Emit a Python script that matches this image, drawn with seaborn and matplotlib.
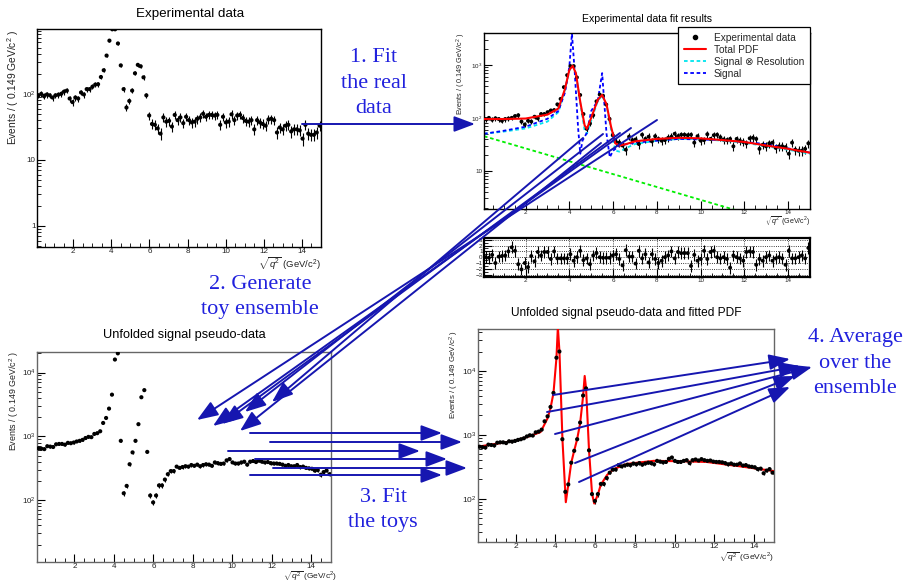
import numpy as np
import pandas as pd
import matplotlib
matplotlib.use('Agg')
import matplotlib.pyplot as plt
from matplotlib.lines import Line2D
from matplotlib.ticker import MultipleLocator, LogLocator, FuncFormatter, NullFormatter, FixedLocator
import seaborn as sns

sns.set_style('ticks')
plt.rcParams['font.family'] = ['Liberation Sans', 'DejaVu Sans']
plt.rcParams['mathtext.fontset'] = 'custom'
plt.rcParams['mathtext.rm'] = 'Liberation Sans'
plt.rcParams['mathtext.it'] = 'Liberation Sans:italic'

W, H = 907, 583

# histogram binning: 100 bins of 0.149 GeV/c^2 between 0.1 and 15.0
edges = np.linspace(0.1, 15.0, 101)
centers = 0.5 * (edges[:-1] + edges[1:])

# experimental data (events per bin)
exp_counts = [95, 100, 92, 98, 95, 88, 95, 97, 100, 108,
              112, 85, 75, 88, 85, 105, 98, 118, 118, 128,
              138, 140, 180, 228, 380, 640, 950, 950, 580, 270,
              118, 62, 78, 112, 205, 275, 262, 178, 95, 47,
              35, 34, 30, 25, 44, 38, 39, 32, 48, 40,
              44, 36, 45, 40, 37, 38, 42, 44, 50, 45,
              48, 48, 47, 48, 34, 45, 37, 38, 49, 40,
              47, 48, 43, 39, 38, 40, 29, 40, 37, 35,
              33, 41, 42, 40, 26, 31, 29, 33, 34, 27,
              29, 29, 28, 21, 34, 25, 24, 24, 26, 33]

# pulls of the data fit
pulls = [0, -0.1, 0.4, -1, 0.1, 0.2, 0.3, 1.0, 1.7, 1.1,
         -1.2, -2.1, -1, -1.7, 0.2, -0.7, 0.9, 0.3, 0.9, 0.9,
         -0.3, 1.0, -0.2, -0.2, -0.2, -0.2, 0.5, -0.6, 0, 1.1,
         -0.5, -0.2, -1.2, 0.3, 0.7, 0, -0.1, -0.1, -0.1, 0.3,
         0.5, -0.3, -1.4, 1.2, 0.1, 0.1, -1.1, 1.1, -0.2, 0.5,
         -0.9, 0.5, -0.3, -1, -0.6, 0, 0.3, 1.0, -0.2, 0.9,
         0.7, 0.7, 0.7, -1.5, 0.4, -0.6, -0.3, 1.1, -0.3, 0.9,
         1.1, 0, -0.2, 0, -0.3, -1.8, 0.3, 0, -0.2, -0.6,
         0.9, 1.0, 0.9, -1.3, -0.3, -0.6, 0, 0.3, -0.6, -0.2,
         0, -0.2, -1.3, 1.1, -0.2, -0.2, 0, 0.3, -0.2, 1.6]

# fit components of the experimental data
fit_x = [0.1, 1.0, 2.0, 3.0, 3.5, 3.8, 4.0, 4.15, 4.3, 4.5, 4.7, 4.8, 5.0, 5.3, 5.5,
         5.7, 5.9, 6.1, 6.3, 6.6, 7.0, 8.0, 9.0, 10.0, 11.0, 12.0, 13.0, 14.0, 15.0]
total_pdf = [95, 95, 97, 115, 150, 350, 800, 960, 700, 200, 72, 62, 100, 220, 270,
             180, 70, 33, 30, 32, 36, 40, 42, 41, 38, 35, 30, 26, 22]
sig_res = [50, 55, 63, 85, 128, 330, 780, 950, 690, 190, 58, 50, 88, 210, 262,
           172, 62, 24, 23, 27, 32, 37, 40, 40, 37, 34, 29, 25, 21]
signal_x = [0.1, 1.0, 2.0, 3.0, 3.5, 3.8, 4.0, 4.12, 4.25, 4.4, 4.5, 4.6, 4.8, 5.0,
            5.3, 5.5, 5.7, 5.85, 6.0, 6.3, 7.0, 9.0, 11.0, 13.0, 15.0]
signal = [50, 57, 68, 96, 135, 300, 920, 3900, 700, 65, 21, 37, 52, 135,
          210, 700, 50, 18, 24, 30, 34, 40, 38, 32, 22]
bkg_x = [0.1, 15.0]
bkg = [45, 0.7]

# unfolded signal pseudo-data (one toy)
unf_counts = [650, 640, 630, 700, 690, 680, 750, 760, 760, 740,
              790, 780, 800, 830, 850, 880, 940, 980, 970, 1090,
              1120, 1200, 1620, 1940, 2720, 4500, 16000, 20000, 850, 128,
              167, 365, 560, 850, 1550, 4100, 5300, 570, 118, 92,
              118, 170, 170, 210, 255, 285, 285, 335, 320, 330,
              340, 335, 355, 345, 360, 340, 355, 365, 360, 345,
              390, 380, 370, 375, 420, 440, 390, 375, 375, 390,
              400, 360, 400, 410, 395, 415, 400, 390, 395, 380,
              375, 375, 370, 360, 345, 355, 340, 340, 355, 330,
              335, 320, 315, 310, 290, 295, 250, 275, 290, 255]

unf_fit_x = [0.1, 1.0, 2.0, 2.7, 3.25, 3.6, 3.75, 3.9, 4.05, 4.12, 4.2, 4.35, 4.52,
             4.65, 4.79, 4.94, 5.09, 5.24, 5.39, 5.47, 5.54, 5.69, 5.84, 5.95, 6.13,
             6.28, 6.6, 6.93, 7.6, 8.94, 10.3, 11.6, 13.3, 15.0]
unf_fit = [650, 720, 810, 950, 1100, 1800, 2600, 4500, 16000, 48000, 20000, 850, 88,
           170, 360, 560, 850, 1500, 4000, 8300, 5300, 560, 120, 84, 115,
           165, 235, 290, 350, 390, 385, 375, 320, 270]

exp_df = pd.DataFrame({'x': centers, 'n': exp_counts, 'pull': pulls})
unf_df = pd.DataFrame({'x': centers, 'n': unf_counts})

# workflow arrows, pixel coordinates (start, tip)
arrows = [((302, 124), (475, 124)),
          ((657, 120), (197, 420)), ((631, 128), (213, 426)), ((620, 133), (222, 424)),
          ((603, 134), (245, 412)), ((601, 143), (240, 431)), ((583, 138), (272, 402)),
          ((250, 433), (442, 433)), ((270, 442), (462, 442)), ((228, 451), (420, 451)),
          ((255, 459), (447, 459)), ((273, 468), (467, 468)), ((250, 475), (442, 475)),
          ((553, 395), (790, 359)), ((547, 412), (800, 366)), ((555, 434), (812, 367)),
          ((575, 463), (795, 376)), ((579, 482), (790, 387))]


def rect(l, t, r, b):
    return [l / W, 1 - b / H, (r - l) / W, (b - t) / H]


def root_fmt(v, pos):
    e = int(round(np.log10(v)))
    if e == 0:
        return '1'
    if e == 1:
        return '10'
    return '$10^{%d}$' % e


def style(ax, spine='black', size=5.5, logy=True):
    for s in ax.spines.values():
        s.set_color(spine)
        s.set_linewidth(1.0)
    ax.set_xlim(0.1, 15.0)
    ax.xaxis.set_major_locator(MultipleLocator(2))
    ax.xaxis.set_minor_locator(MultipleLocator(0.5))
    if logy:
        ax.set_yscale('log')
        ax.yaxis.set_major_locator(LogLocator(base=10))
        ax.yaxis.set_minor_locator(LogLocator(base=10, subs=range(2, 10)))
        ax.yaxis.set_major_formatter(FuncFormatter(root_fmt))
        ax.yaxis.set_minor_formatter(NullFormatter())
    ax.tick_params(which='both', direction='in', top=False, right=False,
                   labelsize=size, color='black', labelcolor='#222222', pad=1)
    ax.tick_params(which='major', length=6, width=0.8)
    ax.tick_params(which='minor', length=3, width=0.6)
    ax.set_xlabel('')
    ax.set_ylabel('')


def data_points(ax, df, ms=9):
    ax.errorbar(df['x'], df['n'], yerr=np.sqrt(df['n']), fmt='none',
                ecolor='black', elinewidth=0.8, capsize=0)
    sns.scatterplot(data=df, x='x', y='n', ax=ax, color='black', s=ms,
                    edgecolor='none', legend=False, zorder=5)


fig = plt.figure(figsize=(W / 100, H / 100), dpi=100)

# panel 1: experimental data
ax1 = fig.add_axes(rect(37, 29, 321, 247))
data_points(ax1, exp_df)
style(ax1, 'black', 5.8)
ax1.set_ylim(0.48, 960)

# panel 2: fit results
ax2 = fig.add_axes(rect(484, 33, 810, 209))
data_points(ax2, exp_df, ms=8)
sns.lineplot(x=bkg_x, y=bkg, ax=ax2, color='#00ee00', lw=1.3, ls=(0, (2, 1.5)))
sns.lineplot(x=fit_x, y=sig_res, ax=ax2, color='#00e5ee', lw=1.3, ls=(0, (2, 1.5)))
sns.lineplot(x=signal_x, y=signal, ax=ax2, color='#0000ff', lw=1.3, ls=(0, (2, 1.5)))
sns.lineplot(x=fit_x, y=total_pdf, ax=ax2, color='#ff0000', lw=1.5, zorder=6)
style(ax2, 'black', 4.5)
ax2.set_ylim(1.9, 4000)
handles = [Line2D([], [], marker='o', color='black', ls='none', markersize=3),
           Line2D([], [], color='#ff0000', lw=1.5),
           Line2D([], [], color='#00e5ee', lw=1.3, ls=(0, (2, 1.5))),
           Line2D([], [], color='#0000ff', lw=1.3, ls=(0, (2, 1.5)))]
leg = ax2.legend(handles, ['Experimental data', 'Total PDF', 'Signal \u2297 Resolution', 'Signal'],
                 loc='upper right', bbox_to_anchor=(810 / W, 1 - 27 / H),
                 bbox_transform=fig.transFigure, fontsize=7.3, frameon=True, fancybox=False,
                 framealpha=1, edgecolor='black', handlelength=2.2, labelspacing=0.2,
                 borderpad=0.55, handletextpad=0.8, borderaxespad=0)
leg.get_frame().set_linewidth(0.9)

# pull panel
axp = fig.add_axes(rect(484, 238, 810, 277))
axp.errorbar(exp_df['x'], exp_df['pull'], yerr=1.0, fmt='none', ecolor='black',
             elinewidth=0.8, capsize=0)
sns.scatterplot(data=exp_df, x='x', y='pull', ax=axp, color='black', s=8,
                edgecolor='none', legend=False, zorder=5)
style(axp, 'black', 4.5, logy=False)
axp.set_ylim(-3.4, 3.3)
axp.yaxis.set_major_locator(FixedLocator([-3, -2, -1, 0, 1, 2, 3]))
axp.yaxis.set_minor_locator(MultipleLocator(0.5))
axp.grid(True, which='major', color='black', ls=':', lw=0.6)
for s in axp.spines.values():
    s.set_linewidth(1.6)

# panel 3: unfolded pseudo-data
ax3 = fig.add_axes(rect(37, 352, 331, 562))
data_points(ax3, unf_df)
style(ax3, '#666666', 5.8)
ax3.set_ylim(10.7, 21000)

# panel 4: unfolded pseudo-data with fit
ax4 = fig.add_axes(rect(478, 329, 774, 542))
data_points(ax4, unf_df)
sns.lineplot(x=unf_fit_x, y=unf_fit, ax=ax4, color='#ff0000', lw=1.5, zorder=4)
style(ax4, '#666666', 6.0)
ax4.set_ylim(21, 45000)

# overlay for titles, labels and workflow arrows
ov = fig.add_axes([0, 0, 1, 1], zorder=10)
ov.set_xlim(0, W)
ov.set_ylim(H, 0)
ov.axis('off')

ylab = 'Events / ( 0.149 GeV/c$^{2}$ )'
xlab = '$\\sqrt{q^{2}}$ (GeV/c$^{2}$)'
titles = [('Experimental data', 190, 14, 9.6),
          ('Experimental data fit results', 647, 19, 7.6),
          ('Unfolded signal pseudo-data', 184, 335, 9.2),
          ('Unfolded signal pseudo-data and fitted PDF', 626, 313, 8.6)]
for t, x, y, fs in titles:
    ov.text(x, y, t, ha='center', va='center', fontsize=fs, color='black')

for x, y, fs in [(13, 30, 7.4), (461, 33, 5.2), (14, 351, 6.4), (454, 330, 5.7)]:
    ov.text(x, y, ylab, rotation=90, ha='center', va='top', fontsize=fs, color='#222222')
for x, y, fs in [(321, 264, 6.8), (810, 222, 5.1), (337, 576.5, 6.0), (774, 558, 6.1)]:
    ov.text(x, y, xlab, ha='right', va='center', fontsize=fs, color='#222222')

blue_txt = '#2121dd'
notes = [('1. Fit\nthe real\ndata', 374, 83), ('2. Generate\ntoy ensemble', 260, 297),
         ('3. Fit\nthe toys', 383, 510), ('4. Average\nover the\nensemble', 855, 363)]
for t, x, y in notes:
    ov.text(x, y, t, ha='center', va='center', fontsize=16, color=blue_txt,
            family='Liberation Serif', linespacing=1.45)

for (x0, y0), (x1, y1) in arrows:
    ov.annotate('', xy=(x1, y1), xytext=(x0, y0),
                arrowprops=dict(arrowstyle='-|>,head_length=0.8,head_width=0.3',
                                mutation_scale=16, color='#1616b0', lw=1.4,
                                shrinkA=0, shrinkB=0))

fig.savefig('out.png', dpi=100)
